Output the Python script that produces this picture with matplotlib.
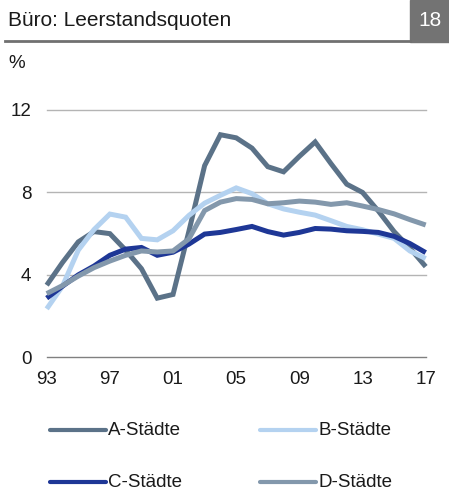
import matplotlib
matplotlib.use("Agg")
import matplotlib.pyplot as plt
from matplotlib.lines import Line2D
from matplotlib.patches import Rectangle

plt.rcParams['font.family'] = ['Liberation Sans', 'DejaVu Sans']

years = list(range(1993, 2018))
a_staedte = [3.5, 4.6, 5.6, 6.1, 6.0, 5.2, 4.3, 2.87, 3.05, 6.1, 9.3, 10.8, 10.65, 10.15,
             9.25, 9.0, 9.75, 10.45, 9.4, 8.4, 8.0, 7.1, 6.1, 5.3, 4.4]
b_staedte = [2.35, 3.45, 5.2, 6.2, 6.95, 6.8, 5.77, 5.7, 6.14, 6.88, 7.48, 7.86, 8.22, 7.94,
             7.45, 7.2, 7.04, 6.9, 6.63, 6.35, 6.19, 5.98, 5.77, 5.16, 4.79]
c_staedte = [2.87, 3.45, 4.0, 4.43, 4.95, 5.25, 5.33, 4.95, 5.1, 5.49, 5.98, 6.06, 6.2, 6.35,
             6.1, 5.93, 6.06, 6.25, 6.22, 6.14, 6.11, 6.06, 5.87, 5.52, 5.08]
d_staedte = [3.09, 3.48, 3.94, 4.35, 4.67, 4.95, 5.16, 5.11, 5.16, 5.74, 7.12, 7.53, 7.7, 7.66,
             7.45, 7.5, 7.58, 7.53, 7.42, 7.5, 7.34, 7.17, 6.96, 6.68, 6.42]

series_names = ['A-Städte', 'B-Städte', 'C-Städte', 'D-Städte']
series_values = [a_staedte, b_staedte, c_staedte, d_staedte]
series_colors = ['#5b7288', '#b4d2f0', '#1e3796', '#8398ac']

y_ticks = [0, 4, 8, 12]
x_tick_years = [1993, 1997, 2001, 2005, 2009, 2013, 2017]
x_tick_labels = ['93', '97', '01', '05', '09', '13', '17']

title = 'Büro: Leerstandsquoten'
page_no = '18'
unit = '%'

W, H = 449, 494
fig = plt.figure(figsize=(W / 100, H / 100), dpi=100)

def fx(px):
    return px / W

def fy(py):
    return 1 - py / H

# axes
ax_left, ax_right = 46.7, 425.7
ax_top, ax_bottom = 110.0, 357.3
ax = fig.add_axes([fx(ax_left), fy(ax_bottom), fx(ax_right - ax_left), (ax_bottom - ax_top) / H])
ax.set_xlim(years[0], years[-1])
ax.set_ylim(0, 12)
for s in ax.spines.values():
    s.set_visible(False)
for t in y_ticks:
    ax.axhline(t, color='#808080' if t == 0 else '#b4b4b4', lw=1.0, zorder=1, clip_on=False)

for name, vals, col in zip(series_names, series_values, series_colors):
    ax.plot(years, vals, color=col, lw=3.6, solid_joinstyle='miter', solid_capstyle='butt',
            zorder=3, clip_on=False)

ax.set_yticks(y_ticks)
ax.set_yticklabels([str(t) for t in y_ticks], fontsize=13.5, color='#1a1a1a')
ax.set_xticks(x_tick_years)
ax.set_xticklabels(x_tick_labels, fontsize=13.5, color='#1a1a1a')
ax.tick_params(axis='both', length=0)
ax.tick_params(axis='y', pad=11)
ax.tick_params(axis='x', pad=10)
ax.grid(False)

# header
fig.text(fx(8), fy(20), title, fontsize=15.0, color='#1a1a1a', va='center', ha='left')
fig.add_artist(Line2D([fx(5), fx(410)], [fy(41.5), fy(41.5)], color='#707070', lw=2.0))
fig.add_artist(Rectangle((fx(410), fy(42.5)), fx(449 - 410), 42.5 / H, color='#737373',
                         transform=fig.transFigure))
fig.text(fx(430), fy(21), page_no, fontsize=15.0, color='white', va='center', ha='center')
fig.text(fx(8), fy(63), unit, fontsize=13.5, color='#1a1a1a', va='center', ha='left')

# legend
leg_pos = [(50, 430), (260, 430), (50, 482), (260, 482)]
for (lx, ly), name, col in zip(leg_pos, series_names, series_colors):
    fig.add_artist(Line2D([fx(lx), fx(lx + 56)], [fy(ly), fy(ly)], color=col, lw=3.0,
                          solid_capstyle='round'))
    fig.text(fx(lx + 58), fy(ly), name, fontsize=13.5, color='#1a1a1a', va='center', ha='left')

fig.savefig('out.png', dpi=100)
